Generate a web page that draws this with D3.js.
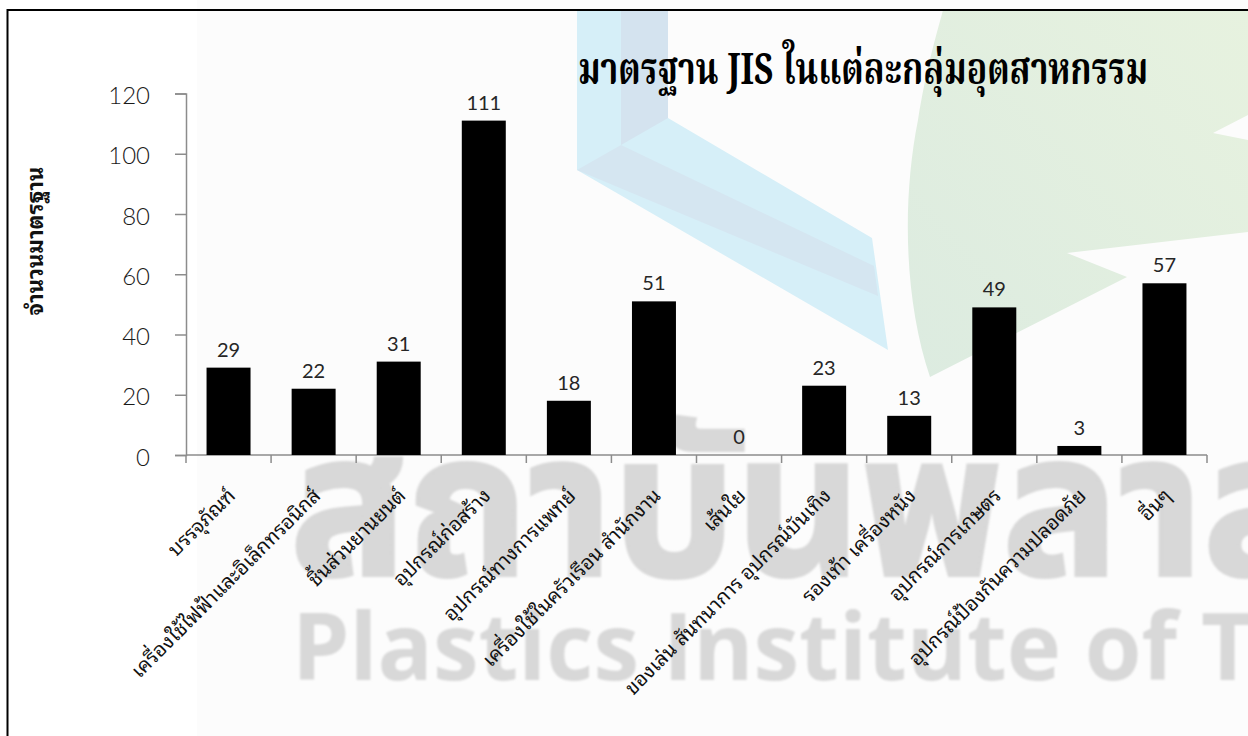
<!DOCTYPE html>
<html>
<head>
<meta charset="utf-8">
<script src="https://cdn.jsdelivr.net/npm/d3@7"></script>
<style>
  html, body { margin: 0; padding: 0; background: #fff; }
  svg { display: block; }
</style>
</head>
<body>
<svg id="chart" width="1248" height="736"></svg>
<script>
// Number of JIS standards per industry group
const categories = [
  "บรรจุภัณฑ์",
  "เครื่องใช้ไฟฟ้าและอิเล็กทรอนิกส์",
  "ชิ้นส่วนยานยนต์",
  "อุปกรณ์ก่อสร้าง",
  "อุปกรณ์ทางการแพทย์",
  "เครื่องใช้ในครัวเรือน สำนักงาน",
  "เส้นใย",
  "ของเล่น สันทนาการ อุปกรณ์บันเทิง",
  "รองเท้า เครื่องหนัง",
  "อุปกรณ์การเกษตร",
  "อุปกรณ์ป้องกันความปลอดภัย",
  "อื่นๆ"
];
const counts = [29, 22, 31, 111, 18, 51, 0, 23, 13, 49, 3, 57];
const yTicks = [0, 20, 40, 60, 80, 100, 120];
const chartTitle = "มาตรฐาน JIS ในแต่ละกลุ่มอุตสาหกรรม";
const yAxisTitle = "จำนวนมาตรฐาน";
const watermarkThai = "สถาบันพลาส";
const watermarkLatin = "Plastics Institute of T";

const W = 1248, H = 736;
const svg = d3.select("#chart");
const thaiFont = "'Noto Sans Thai Looped', 'Noto Looped Thai', 'Noto Sans Thai', Tahoma, sans-serif";
const numFont = "Lato, 'Open Sans', sans-serif";

// ---- background / watermark ----
svg.append("rect").attr("width", W).attr("height", H).attr("fill", "#fff");
svg.append("rect").attr("x", 197).attr("y", 0).attr("width", W - 197).attr("height", H).attr("fill", "#fcfcfc");

const wm = svg.append("g").attr("class", "watermark");
const defs = svg.append("defs");
defs.append("filter").attr("id", "soft").append("feGaussianBlur").attr("stdDeviation", 1.2);
const leafGrad = defs.append("linearGradient").attr("id", "leafGrad")
  .attr("x1", "0").attr("y1", "1").attr("x2", "1").attr("y2", "0");
leafGrad.append("stop").attr("offset", "0").attr("stop-color", "#dcebe0");
leafGrad.append("stop").attr("offset", "1").attr("stop-color", "#e7f2df");

const line = d3.line();
// blue folded band
wm.append("path").attr("d", line([[577,10],[668,10],[668,118],[872,238],[888,350],[577,170]]) + "Z")
  .attr("fill", "#d6eff8");
wm.append("path").attr("d", line([[621,10],[668,10],[668,118],[621,145]]) + "Z")
  .attr("fill", "#d4e3ef");
wm.append("path").attr("d", line([[577,170],[621,145],[874,266],[878,296]]) + "Z")
  .attr("fill", "#d5e6f1");
// green leaf
wm.append("path")
  .attr("d", "M943,10 L1248,10 L1248,115 L1213,133 L1248,140 L1248,232 L1067,253 L1127,277 L930,377 C904,300 902,200 918,120 C926,70 935,40 943,10 Z")
  .attr("fill", "url(#leafGrad)");

const wmText = svg.append("g").attr("filter", "url(#soft)");
wmText.append("text")
  .attr("x", 290).attr("y", 575)
  .attr("textLength", 1030).attr("lengthAdjust", "spacingAndGlyphs")
  .attr("font-family", "'Noto Sans Thai', sans-serif").attr("font-weight", "bold").attr("font-size", 200)
  .attr("fill", "#d8d8d8").attr("stroke", "#d8d8d8").attr("stroke-width", 4)
  .text(watermarkThai);
wmText.append("text")
  .attr("x", 292).attr("y", 680)
  .attr("textLength", 962).attr("lengthAdjust", "spacingAndGlyphs")
  .attr("font-family", "'Open Sans', sans-serif").attr("font-weight", "bold").attr("font-size", 94)
  .attr("fill", "#d8d8d8").text(watermarkLatin);

// ---- frame ----
svg.append("rect").attr("x", 7.5).attr("y", 10).attr("width", W + 20).attr("height", H + 20)
  .attr("fill", "none").attr("stroke", "#000").attr("stroke-width", 2);

// ---- scales ----
const x = d3.scaleBand().domain(categories).range([186, 1207]).paddingInner(0.483).paddingOuter(0.2415);
const y = d3.scaleLinear().domain([0, 120]).range([455, 93.5]);
const axisColor = "#8c8c8c";

// y axis
const yAxis = svg.append("g").attr("transform", "translate(186,0)")
  .call(d3.axisLeft(y).tickValues(yTicks).tickSize(11).tickPadding(25).tickFormat(d3.format("d")));
yAxis.select(".domain").attr("stroke", axisColor).attr("stroke-width", 1.5);
yAxis.selectAll(".tick line").attr("stroke", axisColor).attr("stroke-width", 1.5);
yAxis.selectAll(".tick text").attr("font-family", numFont).attr("font-weight", 300)
  .attr("font-size", 24).attr("fill", "#1a1a1a").attr("dy", "0.42em");

// x axis: ticks at category boundaries
const step = x.step();
const boundaries = d3.range(categories.length + 1).map(i => x.range()[0] + i * step);
const xAxisG = svg.append("g");
xAxisG.append("line").attr("x1", 186).attr("x2", boundaries[boundaries.length - 1])
  .attr("y1", y(0)).attr("y2", y(0)).attr("stroke", axisColor).attr("stroke-width", 1.5);
xAxisG.selectAll("line.tk").data(boundaries).join("line").attr("class", "tk")
  .attr("x1", d => d).attr("x2", d => d).attr("y1", y(0)).attr("y2", y(0) + 8)
  .attr("stroke", axisColor).attr("stroke-width", 1.5);

// bars
svg.append("g").selectAll("rect").data(counts).join("rect")
  .attr("x", (d, i) => x(categories[i]))
  .attr("width", x.bandwidth())
  .attr("y", d => y(d))
  .attr("height", d => y(0) - y(d))
  .attr("fill", "#000");

// value labels
svg.append("g").selectAll("text").data(counts).join("text")
  .attr("x", (d, i) => x(categories[i]) + x.bandwidth() / 2)
  .attr("y", d => y(d) - 11)
  .attr("text-anchor", "middle")
  .attr("font-family", numFont).attr("font-size", 20).attr("fill", "#262626")
  .text(d => d);

// category labels, rotated
svg.append("g").selectAll("text").data(categories).join("text")
  .attr("transform", d => `translate(${x(d) + x.bandwidth() / 2 + 8},497) rotate(-45)`)
  .attr("text-anchor", "end")
  .attr("font-family", thaiFont).attr("font-size", 20).attr("fill", "#111")
  .text(d => d);

// y axis title
svg.append("text")
  .attr("transform", "translate(43,241) rotate(-90)")
  .attr("text-anchor", "middle")
  .attr("font-family", thaiFont).attr("font-weight", "bold").attr("font-size", 22).attr("fill", "#111")
  .text(yAxisTitle);

// chart title
svg.append("text")
  .attr("x", 578).attr("y", 84)
  .attr("textLength", 570).attr("lengthAdjust", "spacingAndGlyphs")
  .attr("font-family", "'Noto Serif Thai', 'Noto Sans Thai', 'DejaVu Serif', serif")
  .attr("font-weight", "bold").attr("font-size", 44).attr("fill", "#000")
  .text(chartTitle);
</script>
</body>
</html>
